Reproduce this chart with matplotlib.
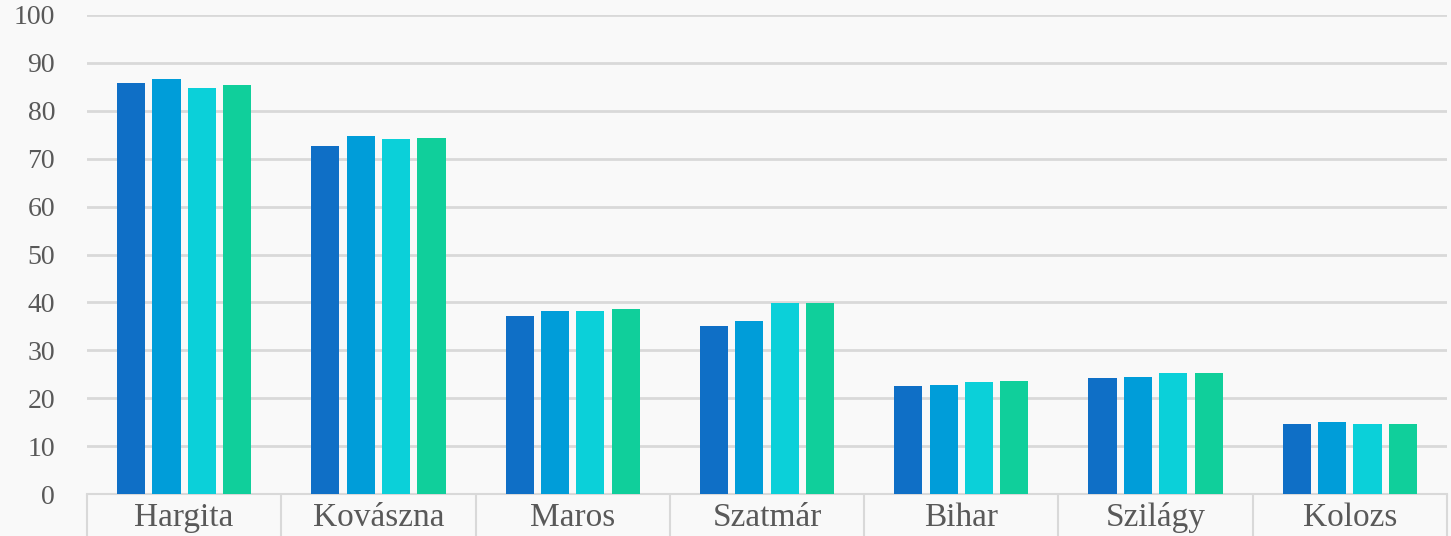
import numpy as np
import matplotlib.pyplot as plt

# megyék
categories = ['Hargita', 'Kovászna', 'Maros', 'Szatmár', 'Bihar', 'Szilágy', 'Kolozs']

series_1 = [85.9, 72.7, 37.2, 35.1, 22.5, 24.2, 14.6]
series_2 = [86.6, 74.7, 38.3, 36.1, 22.8, 24.4, 15.0]
series_3 = [84.8, 74.2, 38.3, 39.9, 23.3, 25.2, 14.6]
series_4 = [85.4, 74.4, 38.6, 39.9, 23.6, 25.2, 14.6]

yticks = [0, 10, 20, 30, 40, 50, 60, 70, 80, 90, 100]

colors = ['#0F6FC6', '#009DD9', '#0BD0D9', '#10CF9B']
grid_col = '#d9d9d9'
text_col = '#595959'

fig = plt.figure(figsize=(14.51, 5.36), dpi=100)
fig.patch.set_facecolor('#f9f9f9')
ax = fig.add_axes([87 / 1451, 42 / 536, 1360 / 1451, 479 / 536])
ax.set_facecolor('#f9f9f9')

x = np.arange(len(categories))
step = 0.182
width = 0.145
all_series = [series_1, series_2, series_3, series_4]
for i, vals in enumerate(all_series):
    ax.bar(x + (i - 1.5) * step, vals, width=width, color=colors[i], zorder=3)

ax.set_xlim(-0.5, len(categories) - 0.5)
ax.set_ylim(0, 100)
ax.set_yticks(yticks)
ax.set_yticklabels([str(v) for v in yticks], fontsize=20, color=text_col,
                   family='Liberation Serif')
ax.yaxis.grid(True, color=grid_col, linewidth=2, zorder=0)
ax.tick_params(axis='y', length=0, pad=23)

# separateurs entre categories
ax.set_xticks(x)
ax.set_xticklabels(categories, fontsize=24, color=text_col, family='Liberation Serif')
ax.set_xticks(np.arange(-0.5, len(categories)), minor=True)
ax.tick_params(axis='x', which='major', length=0, pad=6)
ax.tick_params(axis='x', which='minor', length=32, width=1.5, color=grid_col, direction='out')

for s in ['top', 'right', 'left']:
    ax.spines[s].set_visible(False)
ax.spines['bottom'].set_color(grid_col)
ax.spines['bottom'].set_linewidth(1.5)

plt.savefig('out.png', dpi=100, facecolor=fig.get_facecolor())
